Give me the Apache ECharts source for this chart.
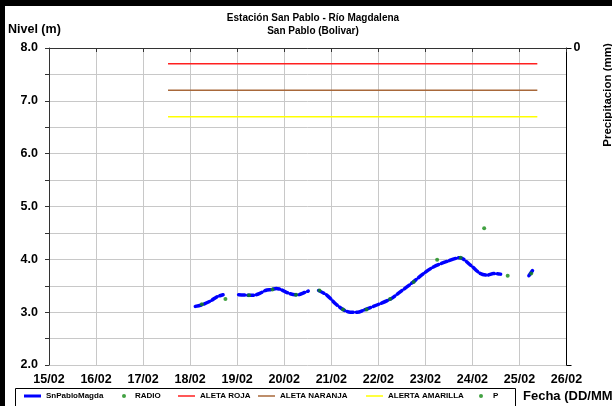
<!DOCTYPE html>
<html>
<head>
<meta charset="utf-8">
<script src="https://cdn.jsdelivr.net/npm/echarts@6/dist/echarts.min.js"></script>
<style>
  html, body { margin: 0; padding: 0; background: #fff; }
  #chart { width: 612px; height: 406px; }
</style>
</head>
<body>
<div id="chart"></div>
<script>
// etiquetas del eje x (dia 0 = 15/02)
const dias = ['15/02', '16/02', '17/02', '18/02', '19/02', '20/02', '21/02', '22/02', '23/02', '24/02', '25/02', '26/02'];

// nivel SnPabloMagda: tiempo en dias desde 15/02, nivel en m (null = hueco)
const nivelT = [3.11, 3.25, 3.43, 3.57, 3.70, 3.87,
    4.03, 4.24, 4.34, 4.49, 4.60, 4.74, 4.83, 4.95, 5.06, 5.23, 5.30, 5.40, 5.51, 5.62,
    5.73, 5.91, 6.09, 6.25, 6.40, 6.55, 6.72, 7.01, 7.26, 7.43, 7.74, 7.96, 8.18, 8.46, 8.73, 8.96, 9.17, 9.31, 9.45, 9.60, 9.90,
    10.20, 10.28];
const nivelM = [3.11, 3.14, 3.21, 3.29, 3.33, null,
    3.33, 3.32, 3.32, 3.36, 3.41, 3.43, 3.45, 3.42, 3.37, 3.33, 3.33, 3.36, 3.40, null,
    3.41, 3.32, 3.16, 3.05, 3.00, 3.00, 3.05, 3.15, 3.25, 3.36, 3.57, 3.73, 3.86, 3.96, 4.03, 3.89, 3.73, 3.70, 3.73, 3.72, null,
    3.69, 3.79];

// lecturas RADIO
const radioT = [3.25, 3.75, 4.25, 4.75, 5.25, 5.75, 6.25, 6.75, 7.25, 7.75, 8.25, 8.75, 9.25, 9.75, 10.25];
const radioM = [3.15, 3.25, 3.32, 3.43, 3.33, 3.41, 3.05, 3.05, 3.25, 3.57, 3.99, 4.03, 4.59, 3.69, 3.73];

// umbrales de alerta
const alertaT = [2.53, 10.38];
const alertaRoja = 7.7;
const alertaNaranja = 7.2;
const alertaAmarilla = 6.7;

const font = "'Liberation Sans', Arial, sans-serif";

function pares(t, v) {
    return t.map((x, i) => [x, v[i]]);
}

var chartDom = document.getElementById('chart');
var myChart = echarts.init(chartDom);

function legendItem(name, left, w, h, icon) {
    return {
        data: [name],
        left: left,
        top: 392,
        icon: icon,
        itemWidth: w,
        itemHeight: h,
        selectedMode: false,
        padding: 0,
        textStyle: { fontFamily: font, fontWeight: 'bold', fontSize: 8, color: '#000' }
    };
}

var option = {
    animation: false,
    backgroundColor: '#fff',
    textStyle: { fontFamily: font },
    title: {
        text: 'Estación San Pablo - Río Magdalena\nSan Pablo (Bolivar)',
        left: 308,
        top: 7,
        textAlign: 'center',
        textStyle: { fontFamily: font, fontWeight: 'bold', fontSize: 10, lineHeight: 13, color: '#000' }
    },
    grid: { left: 49, right: 45.5, top: 48, bottom: 41 },
    legend: [
        legendItem('SnPabloMagda', 24, 17, 3, 'rect'),
        legendItem('RADIO', 122, 12, 4, 'circle'),
        legendItem('ALETA ROJA', 178, 17, 1.5, 'rect'),
        legendItem('ALETA NARANJA', 258, 17, 1.5, 'rect'),
        legendItem('ALERTA AMARILLA', 366, 17, 1.5, 'rect'),
        legendItem('P', 479, 14, 4, 'circle')
    ],
    xAxis: {
        type: 'value',
        min: 0,
        max: 11,
        interval: 1,
        axisLine: { lineStyle: { color: '#333', width: 1 } },
        axisTick: { show: true, length: 4, lineStyle: { color: '#333' } },
        axisLabel: {
            formatter: v => dias[v],
            fontFamily: font, fontWeight: 'bold', fontSize: 12.5, color: '#000', margin: 8
        },
        splitLine: { show: true, lineStyle: { color: '#c8c8c8', width: 1 } }
    },
    yAxis: [
        {
            type: 'value',
            min: 2,
            max: 8,
            interval: 0.5,
            axisLine: { show: true, lineStyle: { color: '#333' } },
            axisTick: { show: true, length: 4, lineStyle: { color: '#333' } },
            axisLabel: {
                formatter: v => (Math.abs(v % 1) < 1e-6 ? v.toFixed(1) : ''),
                fontFamily: font, fontWeight: 'bold', fontSize: 12.5, color: '#000', margin: 11
            },
            splitLine: { show: true, lineStyle: { color: '#c8c8c8' } }
        },
        {
            type: 'value',
            min: 0,
            max: 1,
            interval: 1,
            inverse: true,
            position: 'right',
            axisLine: { show: true, lineStyle: { color: '#000' } },
            axisTick: { show: true, length: 5, lineStyle: { color: '#000' } },
            axisLabel: {
                formatter: v => (v === 0 ? '0' : ''),
                fontFamily: font, fontWeight: 'bold', fontSize: 12.5, color: '#000', margin: 7
            },
            splitLine: { show: false }
        }
    ],
    series: [
        {
            name: 'ALETA ROJA',
            type: 'line',
            data: pares(alertaT, [alertaRoja, alertaRoja]),
            symbol: 'none',
            color: '#ff2020',
            lineStyle: { color: '#ff2020', width: 1.5 }
        },
        {
            name: 'ALETA NARANJA',
            type: 'line',
            data: pares(alertaT, [alertaNaranja, alertaNaranja]),
            symbol: 'none',
            color: '#a8683a',
            lineStyle: { color: '#a8683a', width: 1.5 }
        },
        {
            name: 'ALERTA AMARILLA',
            type: 'line',
            data: pares(alertaT, [alertaAmarilla, alertaAmarilla]),
            symbol: 'none',
            color: '#ffff00',
            lineStyle: { color: '#ffff00', width: 1.5 }
        },
        {
            name: 'SnPabloMagda',
            type: 'line',
            data: pares(nivelT, nivelM),
            symbol: 'none',
            smooth: 0.3,
            connectNulls: false,
            color: '#0000ff',
            lineStyle: { color: '#0000ff', width: 3.5, type: [6, 3], cap: 'round' },
            z: 3
        },
        {
            name: 'RADIO',
            type: 'scatter',
            data: pares(radioT, radioM),
            symbol: 'circle',
            symbolSize: 4,
            color: '#138a13',
            itemStyle: { color: '#138a13' },
            z: 4
        },
        {
            name: 'P',
            type: 'scatter',
            yAxisIndex: 1,
            data: [],
            symbolSize: 4,
            color: '#138a13',
            itemStyle: { color: '#138a13' }
        }
    ],
    graphic: [
        { type: 'rect', shape: { x: 0, y: 0, width: 612, height: 6 }, style: { fill: '#000' } },
        { type: 'rect', shape: { x: 0, y: 0, width: 5, height: 406 }, style: { fill: '#000' } },
        {
            type: 'rect', z: -1,
            shape: { x: 15.5, y: 388.5, width: 500, height: 18 },
            style: { fill: 'none', stroke: '#000', lineWidth: 1 }
        },
        {
            type: 'text', left: 8, top: 23,
            style: { text: 'Nivel (m)', font: 'bold 12.5px ' + font, fill: '#000' }
        },
        {
            type: 'text', left: 523, top: 390,
            style: { text: 'Fecha (DD/MM)', font: 'bold 13px ' + font, fill: '#000' }
        },
        {
            type: 'text', x: 602, y: 95, rotation: Math.PI / 2,
            style: {
                text: 'Precipitacion (mm)', font: 'bold 11.5px ' + font, fill: '#000',
                align: 'center', verticalAlign: 'top'
            }
        }
    ]
};

option && myChart.setOption(option);
</script>
</body>
</html>
